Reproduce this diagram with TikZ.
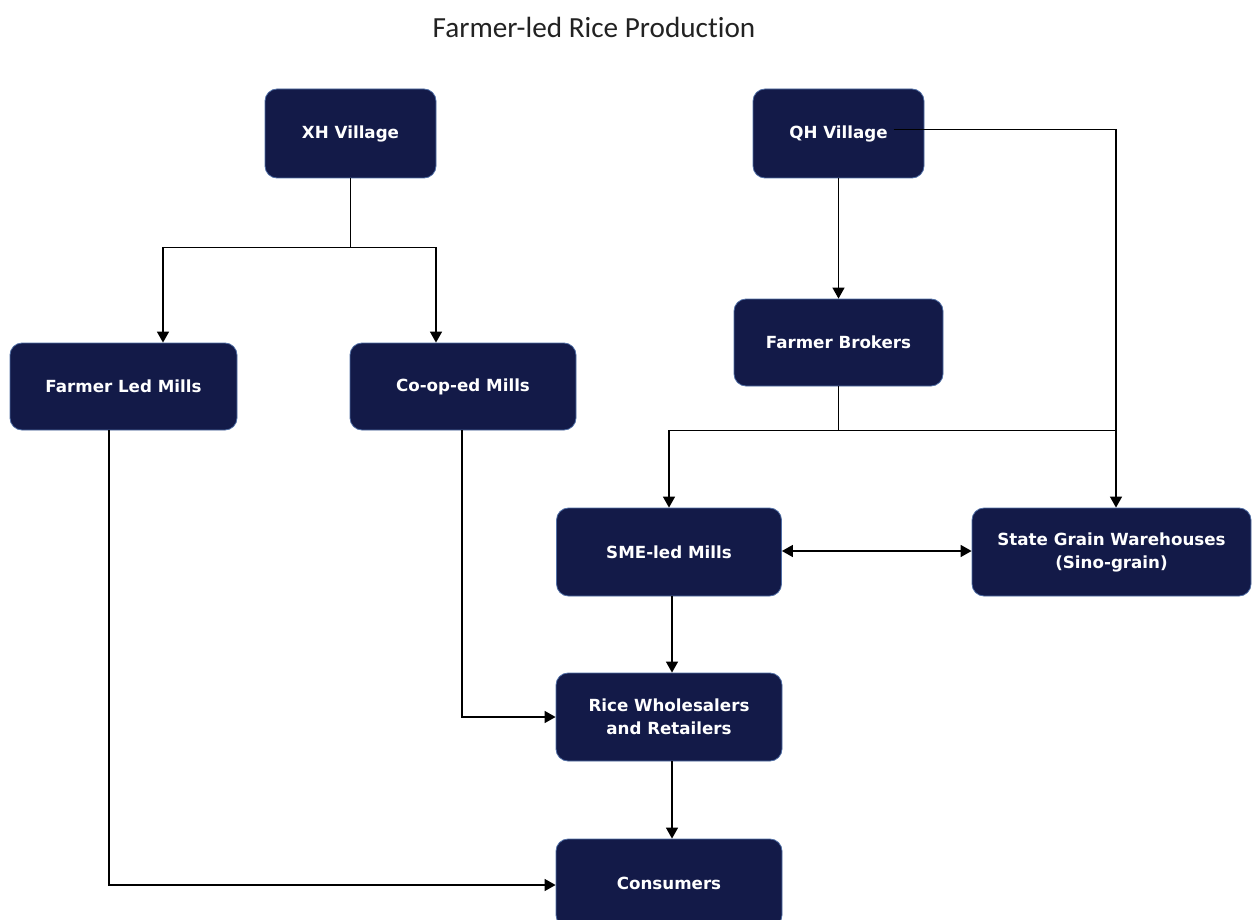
\documentclass[tikz,border=0pt]{standalone}
\usepackage{fontspec}
\usetikzlibrary{arrows.meta,calc}
\newfontfamily\boxfam{DejaVu Sans}
\newfontfamily\titlefam[Ligatures={NoCommon}]{Carlito}
\definecolor{navy}{RGB}{19,26,72}
\definecolor{edgeblue}{RGB}{80,110,165}
\definecolor{titlegray}{RGB}{34,34,34}
\tikzset{
  box/.style={rectangle, rounded corners=12pt, fill=navy, draw=edgeblue, line width=0.8pt,
    text=white, font=\boxfam\bfseries\fontsize{16.7}{23}\selectfont, align=center, inner sep=0pt},
  line/.style={line width=1.4pt, draw=black},
  conn/.style={line, -{Triangle[length=11pt,width=12pt]}},
  conn2/.style={line, {Triangle[length=11pt,width=12pt]}-{Triangle[length=11pt,width=12pt]}}
}
\begin{document}
\begin{tikzpicture}[x=1pt,y=-1pt]
\useasboundingbox (0,0) rectangle (1252,920);
\node[font=\titlefam\fontsize{29.2}{34}\selectfont, text=titlegray] (title) at (594,27) {Farmer-led Rice Production};
\node[box, minimum width=171pt, minimum height=89pt] (xh) at (350.5,133.5) {XH Village};
\node[box, minimum width=171pt, minimum height=89pt] (qh) at (838.5,133.5) {QH Village};
\node[box, minimum width=209pt, minimum height=87pt] (fb) at (838.5,342.5) {Farmer Brokers};
\node[box, minimum width=227pt, minimum height=87pt] (flm) at (123.5,386.5) {Farmer Led Mills};
\node[box, minimum width=226pt, minimum height=87pt] (coop) at (463,386.5) {Co-op-ed Mills};
\node[box, minimum width=225pt, minimum height=88pt] (sme) at (669,552) {SME-led Mills};
\node[box, minimum width=279pt, minimum height=88pt] (sg) at (1111.5,552) {State Grain Warehouses\\(Sino-grain)};
\node[box, minimum width=226pt, minimum height=88pt] (rw) at (669,717) {Rice Wholesalers\\and Retailers};
\node[box, minimum width=226pt, minimum height=88pt] (cons) at (669,883) {Consumers};

% XH branches
\coordinate (xhj) at ($(xh.south)+(0,69)$);
\draw[line] (xh.south) -- (xhj);
\draw[conn] (xhj) -| ($(flm.north)+(39.5,0)$);
\draw[conn] (xhj) -| ($(coop.north)+(-27,0)$);

% QH
\draw[conn] (qh.south) -- (fb.north);
\coordinate (qhr) at ($(sg.north)+(4.5,0)$);
\draw[conn] ($(qh.center)+(55,-4)$) -| (qhr);

% Farmer Brokers
\coordinate (fbj) at ($(fb.south)+(0,44)$);
\draw[line] (fb.south) -- (fbj);
\draw[conn] (fbj) -| (sme.north);
\draw[line] (fbj) -- (fbj -| qhr);

% SME <-> State Grain
\draw[conn2] ($(sme.east)+(0,-1)$) -- ($(sg.west)+(0,-1)$);

% down the middle
\draw[conn] ($(sme.south)+(3,0)$) -- ($(rw.north)+(3,0)$);
\draw[conn] ($(rw.south)+(3,0)$) -- ($(cons.north)+(3,0)$);

% Co-op to wholesalers
\draw[conn] ($(coop.south)+(-1,0)$) |- (rw.west);

% Farmer Led Mills to consumers
\draw[conn] ($(flm.south)+(-14.5,0)$) |- ($(cons.west)+(0,2)$);
\end{tikzpicture}
\end{document}
